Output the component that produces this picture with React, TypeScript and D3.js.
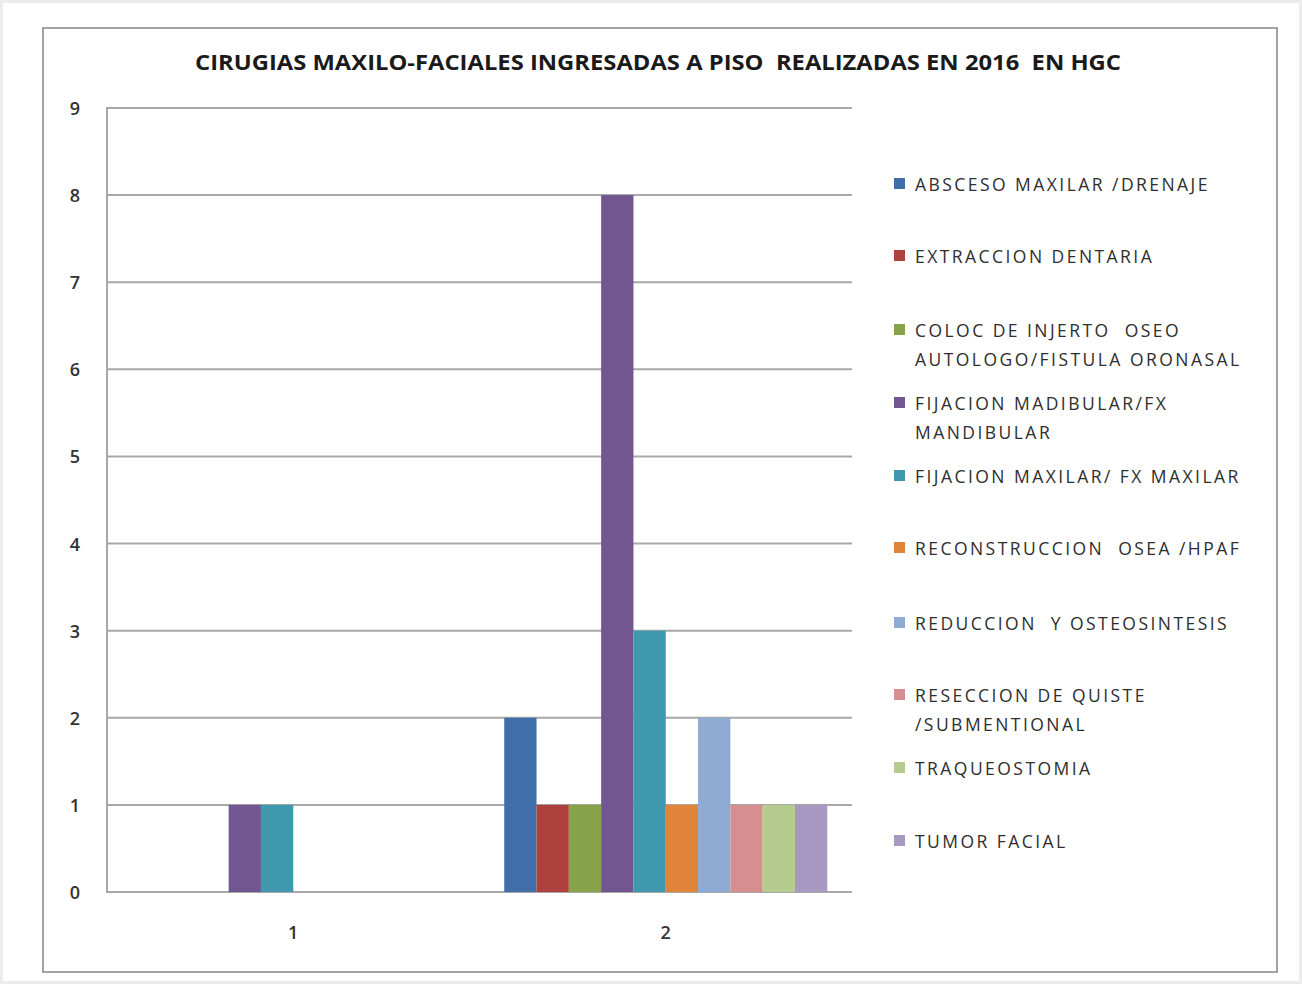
import React, { useEffect, useRef } from "react";
import * as d3 from "d3";

const categories = ["1", "2"];
const seriesNames = [
  "ABSCESO MAXILAR /DRENAJE",
  "EXTRACCION DENTARIA",
  "COLOC DE INJERTO  OSEO AUTOLOGO/FISTULA ORONASAL",
  "FIJACION MADIBULAR/FX MANDIBULAR",
  "FIJACION MAXILAR/ FX MAXILAR",
  "RECONSTRUCCION  OSEA /HPAF",
  "REDUCCION  Y OSTEOSINTESIS",
  "RESECCION DE QUISTE /SUBMENTIONAL",
  "TRAQUEOSTOMIA",
  "TUMOR FACIAL",
];
const legendLines = [
  ["ABSCESO MAXILAR /DRENAJE"],
  ["EXTRACCION DENTARIA"],
  ["COLOC DE INJERTO  OSEO", "AUTOLOGO/FISTULA ORONASAL"],
  ["FIJACION MADIBULAR/FX", "MANDIBULAR"],
  ["FIJACION MAXILAR/ FX MAXILAR"],
  ["RECONSTRUCCION  OSEA /HPAF"],
  ["REDUCCION  Y OSTEOSINTESIS"],
  ["RESECCION DE QUISTE", "/SUBMENTIONAL"],
  ["TRAQUEOSTOMIA"],
  ["TUMOR FACIAL"],
];
const valuesCat1 = [0, 0, 0, 1, 1, 0, 0, 0, 0, 0];
const valuesCat2 = [2, 1, 1, 8, 3, 1, 2, 1, 1, 1];
const colors = [
  "#3f6ea9",
  "#ae413e",
  "#87a34a",
  "#71568f",
  "#3f98ae",
  "#e0843a",
  "#8faad3",
  "#d68f8e",
  "#b5cc8e",
  "#a899c2",
];
const yTicks = [0, 1, 2, 3, 4, 5, 6, 7, 8, 9];
const legendY = [184, 256, 330, 403, 476, 548, 623, 695, 768, 841];
const title = "CIRUGIAS MAXILO-FACIALES INGRESADAS A PISO  REALIZADAS EN 2016  EN HGC";

export default function App() {
  const ref = useRef<SVGSVGElement | null>(null);

  useEffect(() => {
    const svg = d3.select(ref.current);
    svg.selectAll("*").remove();
    const W = 1302, H = 984;
    const left = 107, right = 852, top = 108, bottom = 892;
    const font = "'Open Sans', 'Noto Sans', sans-serif";

    svg.append("rect").attr("x", 0).attr("y", 0).attr("width", W).attr("height", H).attr("fill", "#fff");
    svg.append("rect").attr("x", 1.5).attr("y", 1.5).attr("width", W - 3).attr("height", H - 3)
      .attr("fill", "none").attr("stroke", "#ececec").attr("stroke-width", 3);
    svg.append("rect").attr("x", 43).attr("y", 28).attr("width", 1234).attr("height", 944)
      .attr("fill", "#fff").attr("stroke", "#a3a3a3").attr("stroke-width", 2);

    svg.append("text").attr("x", 658).attr("y", 70).attr("text-anchor", "middle")
      .attr("font-family", font).attr("font-weight", "bold").attr("font-size", 21)
      .attr("fill", "#1a1a1a").attr("textLength", 926).attr("lengthAdjust", "spacingAndGlyphs")
      .attr("xml:space", "preserve").style("white-space", "pre")
      .text(title);

    const y = d3.scaleLinear().domain([0, 9]).range([bottom, top]);
    const x0 = d3.scaleBand<string>().domain(categories).range([left, right]).padding(0);
    const x1 = d3.scaleBand<string>().domain(seriesNames).range([0, x0.bandwidth()])
      .paddingInner(0).paddingOuter(0.766);

    const g = svg.append("g");
    g.selectAll("line.grid").data(yTicks).enter().append("line")
      .attr("x1", left).attr("x2", right)
      .attr("y1", (d) => y(d)).attr("y2", (d) => y(d))
      .attr("stroke", "#a8a8a8").attr("stroke-width", 2);
    g.append("line").attr("x1", left).attr("x2", left).attr("y1", top - 1).attr("y2", bottom + 1)
      .attr("stroke", "#a8a8a8").attr("stroke-width", 2);

    g.selectAll("text.ytick").data(yTicks).enter().append("text")
      .attr("x", 75).attr("y", (d) => y(d) + 7).attr("text-anchor", "middle")
      .attr("font-family", font).attr("font-size", 18).attr("font-weight", 600)
      .attr("fill", "#333").text((d) => String(d));

    const allValues = [valuesCat1, valuesCat2];
    categories.forEach((c, ci) => {
      const vals = allValues[ci];
      seriesNames.forEach((s, si) => {
        const v = vals[si];
        if (v <= 0) return;
        g.append("rect")
          .attr("x", (x0(c) as number) + (x1(s) as number))
          .attr("y", y(v))
          .attr("width", x1.bandwidth())
          .attr("height", y(0) - y(v))
          .attr("fill", colors[si]);
      });
      g.append("text").attr("x", (x0(c) as number) + x0.bandwidth() / 2).attr("y", 939)
        .attr("text-anchor", "middle").attr("font-family", font).attr("font-size", 18)
        .attr("font-weight", 600).attr("fill", "#333").text(c);
    });

    const leg = svg.append("g");
    legendLines.forEach((lines, i) => {
      leg.append("rect").attr("x", 894).attr("y", legendY[i] - 6).attr("width", 11).attr("height", 11)
        .attr("fill", colors[i]);
      lines.forEach((ln, li) => {
        leg.append("text").attr("x", 915).attr("y", legendY[i] + 6.5 + li * 29)
          .attr("font-family", font).attr("font-size", 17.5).attr("font-weight", 500)
          .attr("fill", "#2e2e2e").attr("letter-spacing", 2.45)
          .attr("xml:space", "preserve").style("white-space", "pre")
          .text(ln);
      });
    });
  }, []);

  return (
    <svg ref={ref} width={1302} height={984} style={{ display: "block", position: "absolute", left: 0, top: 0 }} />
  );
}
